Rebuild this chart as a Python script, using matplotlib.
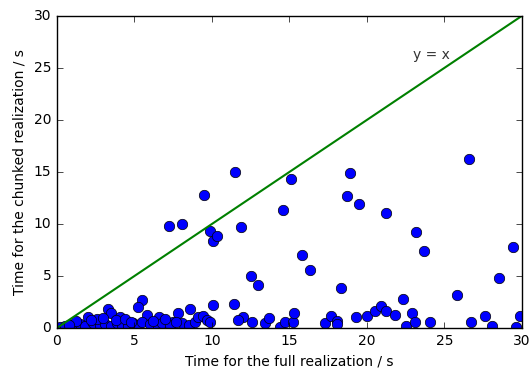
import numpy as np
import matplotlib
matplotlib.use('Agg')
import matplotlib.pyplot as plt

# full realization time vs chunked realization time (s)
t_full = [
    7.2, 8.1, 9.5, 9.9, 10.1, 10.3, 11.5, 11.9, 12.5, 13.0, 14.6, 15.1, 15.8, 16.3,
    18.3, 18.7, 18.9, 19.5, 21.2, 23.2, 23.7, 26.6, 25.8, 28.5, 29.4,
    # lower cluster
    5.5, 5.2, 3.3, 3.5, 2.0, 4.1, 5.8, 6.6, 7.8, 8.6, 10.1, 11.4, 12.0, 11.7, 12.6,
    13.4, 13.7, 14.4, 14.7, 15.2, 15.3, 7.5, 8.1, 8.5, 8.9, 9.1, 9.4, 9.7, 9.9,
    17.3, 17.7, 18.1, 18.1, 19.3, 20.0, 20.5, 20.9, 21.2, 21.8, 22.3, 22.9, 22.5,
    23.1, 24.1, 26.7, 27.6, 28.1, 29.6, 29.9,
    0.2, 0.5, 1.0, 1.5, 1.8, 2.3, 2.8, 3.1, 3.5, 3.9, 4.2, 4.6, 4.9, 5.2, 5.5,
    6.0, 6.5, 6.8, 7.3, 7.7, 1.2, 2.6, 3.0, 3.8, 4.4, 6.2, 7.0, 0.8, 2.2, 4.8,
]
t_chunk = [
    9.8, 10.0, 12.8, 9.3, 8.4, 8.8, 15.0, 9.7, 5.0, 4.1, 11.3, 14.3, 7.0, 5.6,
    3.8, 12.7, 14.9, 11.9, 11.1, 9.2, 7.4, 16.2, 3.2, 4.8, 7.8,
    2.7, 2.0, 1.8, 1.4, 1.1, 1.1, 1.3, 1.1, 1.4, 1.8, 2.2, 2.3, 1.1, 0.8, 0.6,
    0.5, 1.0, 0.1, 0.6, 0.6, 1.4, 0.6, 0.5, 0.3, 0.6, 1.1, 1.2, 0.8, 0.6,
    0.5, 1.2, 0.7, 0.4, 1.1, 1.2, 1.6, 2.1, 1.6, 1.3, 2.8, 1.4, 0.2,
    0.6, 0.6, 0.6, 1.2, 0.2, 0.1, 1.2,
    0.1, 0.2, 0.3, 0.4, 0.2, 0.5, 0.3, 0.4, 0.2, 0.5, 0.3, 0.2, 0.5, 0.3, 0.6,
    0.4, 0.2, 0.5, 0.3, 0.6, 0.7, 0.9, 1.0, 0.8, 0.9, 0.7, 0.9, 0.3, 0.8, 0.6,
]

plt.style.use('classic')
fig = plt.figure(figsize=(5.32, 3.69), dpi=100)
fig.patch.set_facecolor('white')
ax = fig.add_axes([0.107, 0.111, 0.874, 0.846])

ax.plot(t_full, t_chunk, 'o', c='b', ms=7.5, mec='k', mew=0.5)
ax.plot([0, 30], [0, 30], '-', c='g', lw=1.5)
ax.text(23.0, 25.9, 'y = x', fontsize=10, color='#333333')

ax.set_xlim(0, 30)
ax.set_ylim(0, 30)
ax.tick_params(labelsize=10)
ax.set_xlabel('Time for the full realization / s', fontsize=10)
ax.set_ylabel('Time for the chunked realization / s', fontsize=10)

fig.savefig('out.png', dpi=100, facecolor='white')
